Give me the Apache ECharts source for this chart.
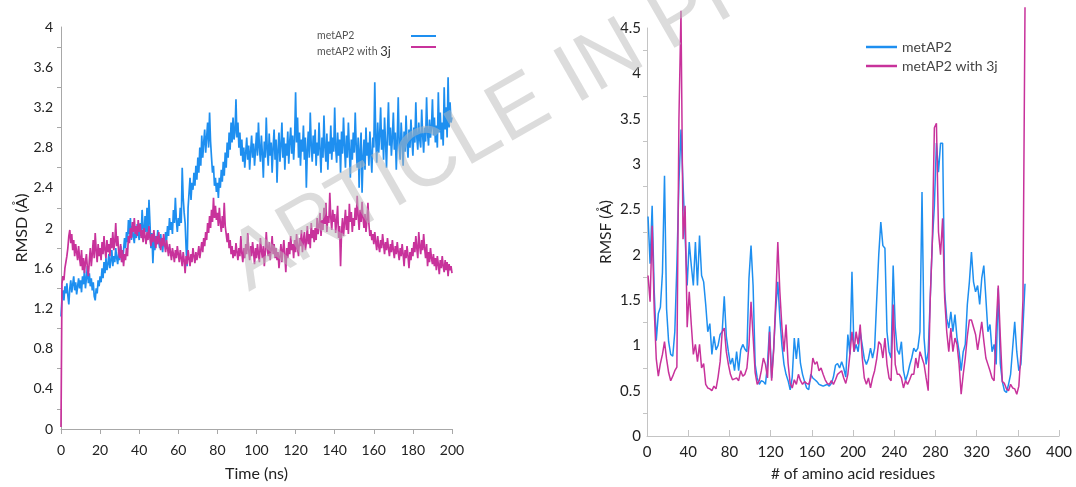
<!DOCTYPE html>
<html>
<head>
<meta charset="utf-8">
<script src="https://cdn.jsdelivr.net/npm/echarts@6.0.0/dist/echarts.min.js"></script>
<style>html,body{margin:0;padding:0;background:#fff}#c{width:1076px;height:487px}</style>
</head>
<body>
<div id="c"></div>
<script>
// ---- data ----
const seriesNames = ['metAP2', 'metAP2 with 3j'];
const rmsdStep = 0.5; // ns between samples
const rmsdApo = [
1.12,1.30,1.38,1.28,1.42,1.35,1.45,1.33,1.24,1.40,1.48,1.36,1.44,1.52,1.38,1.46,1.34,1.42,1.50,1.40,
1.48,1.36,1.52,1.44,1.58,1.40,1.50,1.62,1.45,1.55,1.42,1.50,1.38,1.46,1.32,1.28,1.40,1.35,1.48,1.42,
1.52,1.46,1.60,1.50,1.66,1.55,1.70,1.58,1.64,1.74,1.60,1.68,1.78,1.62,1.72,1.66,1.80,1.70,1.64,1.76,
1.68,1.82,1.72,1.66,1.78,1.90,1.80,1.96,1.86,2.08,1.94,2.10,1.88,2.02,1.92,1.85,2.00,1.90,2.04,1.95,
1.88,2.05,1.92,2.18,2.00,1.90,2.12,1.96,2.20,1.94,2.28,2.05,1.80,1.95,1.65,1.88,1.78,1.92,1.84,1.98,
1.86,1.80,1.94,1.84,1.76,1.90,1.82,1.96,1.88,2.02,1.92,2.10,1.98,2.06,1.94,2.18,2.05,2.30,2.08,1.96,
2.10,2.02,2.20,2.05,2.60,2.30,2.15,2.05,1.80,1.62,2.20,2.35,2.50,2.28,2.45,2.38,2.55,2.42,2.62,2.48,
2.70,2.55,2.80,2.62,2.92,2.70,2.85,2.98,2.75,2.90,3.05,2.80,3.15,2.86,2.70,2.55,2.62,2.42,2.50,2.36,
2.45,2.30,2.50,2.40,2.58,2.46,2.66,2.52,2.75,2.60,2.85,2.70,2.95,2.78,3.05,2.85,3.10,2.88,2.95,3.28,
2.90,3.05,2.80,2.95,2.72,2.88,2.66,2.80,2.60,2.75,2.90,2.68,2.82,2.58,2.76,2.92,2.70,2.84,2.62,2.78,
2.95,2.72,3.05,2.80,2.66,2.92,2.74,2.50,2.86,2.70,3.10,2.78,2.62,2.94,2.72,2.85,2.55,2.80,2.98,2.68,
2.88,2.45,2.78,2.95,2.66,2.82,3.05,2.70,2.90,2.58,2.84,2.72,2.96,2.64,2.86,3.00,2.74,2.92,2.68,2.88,
3.35,2.85,3.10,2.70,2.95,2.62,2.88,2.76,3.02,2.68,2.90,2.40,2.78,2.96,2.70,3.15,2.82,2.66,2.92,2.74,
2.98,2.62,2.85,2.72,3.05,2.78,2.55,2.90,2.70,3.12,2.80,2.66,2.94,2.58,2.86,2.74,3.02,2.68,2.90,2.76,
3.20,2.80,2.65,2.95,2.72,2.88,2.55,2.96,2.74,3.10,2.82,2.60,2.92,2.70,3.05,2.78,2.50,2.88,2.68,2.95,
2.75,3.15,2.82,2.60,2.90,2.40,2.78,2.95,2.35,2.70,2.88,2.58,3.00,2.72,2.85,2.62,2.96,2.74,2.55,2.90,
2.80,3.45,2.90,2.65,3.05,2.75,2.92,3.20,2.78,2.98,2.68,3.10,2.85,2.60,2.95,3.25,2.82,3.00,2.72,2.90,
3.15,2.78,2.95,2.58,2.88,3.30,2.80,2.68,3.05,2.86,2.62,2.96,2.76,3.12,2.84,2.70,2.98,2.80,3.08,2.88,
2.72,3.00,2.85,3.25,2.90,2.78,3.05,2.88,2.80,3.18,2.92,2.75,3.00,2.86,3.30,2.94,2.82,3.08,2.90,3.00,
3.28,2.92,3.10,2.85,3.02,2.80,3.35,2.95,3.15,2.88,3.05,2.82,3.40,2.98,3.20,2.90,3.50,3.00,3.25,3.05,
3.10
];
const rmsdLig = [
0.02,1.45,1.52,1.48,1.60,1.66,1.72,1.80,1.92,1.98,1.85,1.94,1.78,1.88,1.72,1.84,1.76,1.68,1.82,1.70,
1.62,1.78,1.58,1.70,1.55,1.66,1.74,1.60,1.52,1.68,1.80,1.62,1.74,1.88,1.70,1.95,1.78,1.66,1.84,1.72,
1.80,1.68,1.86,1.74,1.92,1.78,1.70,1.88,1.76,1.84,1.72,1.90,1.80,1.96,1.78,1.86,2.05,1.82,1.92,1.76,
1.70,1.84,1.66,1.78,1.62,1.74,1.68,1.80,1.72,1.92,1.85,2.00,1.90,2.06,1.96,2.10,1.94,2.02,1.92,2.08,
1.96,2.04,1.90,1.98,1.86,2.00,1.92,1.84,1.96,1.88,2.02,1.90,1.82,1.94,1.86,1.98,1.88,1.80,1.92,1.84,
1.96,1.86,1.78,1.90,1.82,1.94,1.84,1.76,1.88,1.80,1.72,1.84,1.76,1.68,1.80,1.74,1.66,1.78,1.70,1.82,
1.74,1.66,1.78,1.70,1.62,1.76,1.68,1.55,1.72,1.64,1.78,1.70,1.62,1.74,1.66,1.80,1.72,1.65,1.76,1.68,
1.74,1.82,1.70,1.78,1.86,1.76,1.90,1.82,1.96,1.88,2.05,1.95,2.12,2.00,2.18,2.06,2.30,2.10,2.22,2.08,
2.15,2.02,2.20,2.05,1.96,2.12,2.00,2.25,2.02,1.94,1.86,1.95,1.80,1.88,1.74,1.82,1.70,1.78,1.72,1.85,
1.76,1.68,1.80,1.72,1.92,1.75,1.66,1.80,1.70,1.84,1.74,1.95,1.78,1.68,1.82,1.72,1.86,1.76,1.64,1.80,
1.70,1.84,1.74,1.66,1.90,1.78,1.70,1.82,1.62,1.76,1.96,1.80,1.72,1.86,1.68,1.78,1.92,1.74,1.84,1.70,
1.80,1.68,1.76,1.60,1.72,1.84,1.66,1.78,1.88,1.72,1.56,1.80,1.70,1.86,1.74,1.92,1.78,1.84,1.70,1.88,
1.76,1.94,1.80,1.72,1.90,1.82,1.98,1.76,1.88,1.96,1.78,1.86,2.02,1.84,1.94,1.80,2.05,1.90,1.98,1.86,
2.00,1.88,2.10,1.94,2.02,2.15,1.92,2.08,1.98,2.20,2.04,2.25,1.96,2.12,2.05,2.35,2.10,1.98,2.18,2.06,
2.14,1.95,2.08,2.22,1.90,2.02,1.62,1.96,2.10,1.92,2.05,2.18,1.98,2.12,1.94,2.24,2.06,2.16,1.96,2.10,
2.02,2.20,2.08,2.32,2.12,1.98,2.18,2.06,2.26,2.10,2.00,2.14,1.96,2.08,2.25,2.04,1.92,1.98,1.88,1.94,
1.84,1.96,1.86,1.78,1.92,1.82,1.76,1.88,1.80,1.94,1.84,1.74,1.86,1.78,1.90,1.80,1.72,1.84,1.76,1.88,
1.78,1.70,1.82,1.74,1.86,1.76,1.68,1.80,1.72,1.84,1.74,1.62,1.78,1.70,1.82,1.72,1.60,1.76,1.68,1.80,
1.72,1.86,1.76,1.92,1.80,1.70,1.96,1.82,1.74,1.88,1.78,1.94,1.80,1.70,1.84,1.62,1.76,1.66,1.80,1.70,
1.64,1.74,1.62,1.70,1.58,1.72,1.64,1.54,1.68,1.60,1.72,1.62,1.56,1.68,1.58,1.66,1.52,1.64,1.58,1.62,
1.55
];
const residueStart = 1, residueStep = 2;
const rmsfApo = [
2.42,1.90,2.54,1.60,1.05,1.35,1.42,1.80,2.87,1.40,
1.04,0.90,0.88,1.15,1.88,2.80,3.38,2.78,2.20,1.66,
2.14,1.88,1.66,2.14,1.66,2.21,1.77,1.70,1.45,1.15,
1.24,0.90,1.10,0.95,1.00,1.12,1.15,1.54,1.10,0.93,
0.79,0.86,0.72,0.93,0.72,0.95,1.01,0.96,0.93,1.74,
2.10,1.66,0.79,0.64,0.57,0.61,0.60,0.57,0.79,1.21,
0.64,0.97,1.40,1.70,1.30,1.00,0.79,0.68,0.61,0.51,
0.65,1.08,0.85,1.08,0.80,0.68,0.60,0.53,0.51,0.68,
0.64,0.62,0.60,0.57,0.56,0.55,0.56,0.57,0.55,0.58,
0.65,0.78,0.80,0.75,0.82,0.75,0.65,1.12,0.90,1.81,
0.93,1.01,0.93,1.15,1.00,0.85,0.79,0.85,0.97,0.86,
0.97,1.50,2.00,2.36,2.10,2.07,1.15,0.93,0.86,1.88,
1.20,0.95,0.90,1.04,0.72,0.61,0.68,0.78,0.86,0.97,
0.93,0.97,1.15,2.69,1.08,0.79,0.93,1.52,2.14,2.54,
3.23,2.91,3.23,3.23,1.59,1.30,1.19,1.37,1.15,1.34,
1.08,0.93,0.72,0.93,1.01,1.45,1.70,2.03,1.70,1.59,
1.66,1.45,1.74,1.88,1.52,1.15,1.23,0.93,1.01,0.79,
1.63,0.80,0.60,0.50,0.48,0.57,0.68,0.97,1.26,0.93,
0.72,0.79,1.20,1.68
];
const rmsfLig = [
1.77,1.48,2.32,1.40,0.85,0.66,0.80,0.90,1.04,0.85,
0.70,0.61,0.66,0.72,0.76,3.50,4.69,2.17,2.54,1.20,
1.59,1.23,0.90,1.01,0.82,1.01,0.75,0.80,0.57,0.53,
0.52,0.50,0.55,0.52,0.65,0.82,1.15,1.19,0.93,0.79,
0.68,0.62,0.63,0.64,0.61,0.72,0.66,0.68,0.75,1.00,
1.48,1.10,0.70,0.57,0.61,0.72,0.86,0.79,0.64,1.15,
0.61,0.95,1.50,2.14,1.59,1.20,0.93,1.23,0.80,0.58,
0.53,0.62,0.57,0.68,0.61,0.57,0.60,0.58,0.57,0.64,
0.86,0.79,0.82,0.72,0.75,0.68,0.62,0.58,0.57,0.61,
0.57,0.62,0.68,0.70,0.72,0.64,0.58,0.68,0.90,1.15,
0.93,1.15,1.01,1.23,0.86,0.64,0.57,0.64,0.53,0.64,
0.72,0.85,1.04,1.01,0.86,1.08,0.79,0.64,0.61,1.45,
0.79,0.68,0.68,0.64,0.53,0.61,0.57,0.62,0.68,0.68,
0.86,0.75,0.93,0.86,0.79,0.64,0.50,1.52,2.14,3.40,
3.45,2.25,2.00,2.40,1.52,1.15,0.93,1.19,0.93,1.08,
1.01,0.79,0.46,0.68,0.86,1.10,1.28,1.28,1.20,1.12,
0.95,1.10,1.26,1.05,0.86,0.79,0.72,0.64,0.61,1.20,
1.66,1.10,0.60,0.58,0.52,0.50,0.57,0.53,0.52,0.46,
0.55,0.90,1.50,4.73
];
const watermarkText = 'ARTICLE IN PRESS';

// ---- build ----
const blue = '#1e8ff0', pink = '#c8329b';
const rmsdPairs = arr => arr.map((v, i) => [i * rmsdStep, v]);
const rmsfPairs = arr => arr.map((v, i) => [residueStart + i * residueStep, v]);
const font = 'Lato';
const lineIcon = 'path://M0,0 L100,0 L100,8 L0,8 Z';

const chart = echarts.init(document.getElementById('c'), null, {renderer: 'canvas'});
chart.setOption({
  animation: false,
  backgroundColor: '#fff',
  grid: [
    {left: 61, top: 27, width: 391, height: 405},
    {left: 647, top: 28, width: 412, height: 411}
  ],
  xAxis: [
    {gridIndex: 0, type: 'value', min: 0, max: 200, interval: 20,
     name: 'Time (ns)', nameLocation: 'middle', nameGap: 37,
     nameTextStyle: {fontFamily: font, fontSize: 16, color: '#222'},
     axisLine: {lineStyle: {color: '#a8a8a8', width: 1}},
     axisTick: {show: true, inside: false, length: 5, lineStyle: {color: '#a8a8a8'}},
     axisLabel: {fontFamily: font, fontSize: 14, color: '#222', margin: 14},
     splitLine: {show: false}},
    {gridIndex: 1, type: 'value', min: 0, max: 400, interval: 40,
     name: '# of amino acid residues', nameLocation: 'middle', nameGap: 30,
     nameTextStyle: {fontFamily: font, fontSize: 15.5, color: '#222'},
     axisLine: {lineStyle: {color: '#c4c4c4', width: 1}},
     axisTick: {show: true, inside: true, length: 6, lineStyle: {color: '#c4c4c4'}},
     axisLabel: {fontFamily: font, fontSize: 15, color: '#222', margin: 9},
     splitLine: {show: false}}
  ],
  yAxis: [
    {gridIndex: 0, type: 'value', min: 0, max: 4, interval: 0.4,
     name: 'RMSD (Å)', nameLocation: 'middle', nameGap: 26,
     nameTextStyle: {fontFamily: font, fontSize: 16, color: '#222'},
     axisLine: {show: true, lineStyle: {color: '#a8a8a8', width: 1}},
     axisTick: {show: false},
     minorTick: {show: true, splitNumber: 2, length: 4, lineStyle: {color: '#a8a8a8'}},
     axisLabel: {fontFamily: font, fontSize: 14, color: '#222', margin: 8},
     splitLine: {show: false}, minorSplitLine: {show: false}},
    {gridIndex: 1, type: 'value', min: 0, max: 4.5, interval: 0.5,
     name: 'RMSF (Å)', nameLocation: 'middle', nameGap: 33,
     nameTextStyle: {fontFamily: font, fontSize: 15.5, color: '#222'},
     axisLine: {show: true, lineStyle: {color: '#c4c4c4', width: 1}},
     axisTick: {show: false},
     minorTick: {show: true, splitNumber: 2, length: 4, lineStyle: {color: '#c4c4c4'}},
     axisLabel: {fontFamily: font, fontSize: 15, color: '#222', margin: 6},
     splitLine: {show: false}, minorSplitLine: {show: false}}
  ],
  legend: [
    // left panel: names (text only)
    {data: seriesNames, orient: 'vertical', left: 312, top: 30, align: 'left',
     icon: lineIcon, itemWidth: 0, itemHeight: 12, itemGap: 4, padding: 0,
     itemStyle: {opacity: 0}, lineStyle: {opacity: 0},
     formatter: n => n.replace('3j', '{b|3j}'),
     textStyle: {fontFamily: font, fontSize: 10.5, color: '#555',
       rich: {b: {fontFamily: font, fontSize: 13, color: '#333'}}}},
    // left panel: line keys (to the right of the names)
    {data: seriesNames, orient: 'vertical', left: 411, top: 30, align: 'left',
     icon: lineIcon, itemWidth: 25, itemHeight: 12, itemGap: 4, padding: 0,
     formatter: () => '', textStyle: {fontSize: 10.5}},
    // right panel
    {data: seriesNames, orient: 'vertical', left: 866, top: 40, align: 'left',
     icon: lineIcon, itemWidth: 31, itemHeight: 14, itemGap: 5, padding: 0,
     textStyle: {fontFamily: font, fontSize: 14, color: '#444'}}
  ],
  series: [
    {name: seriesNames[0], type: 'line', xAxisIndex: 0, yAxisIndex: 0, symbol: 'none',
     data: rmsdPairs(rmsdApo), lineStyle: {color: blue, width: 1.7}, itemStyle: {color: blue}},
    {name: seriesNames[1], type: 'line', xAxisIndex: 0, yAxisIndex: 0, symbol: 'none',
     data: rmsdPairs(rmsdLig), lineStyle: {color: pink, width: 1.7}, itemStyle: {color: pink}},
    {name: seriesNames[0], type: 'line', xAxisIndex: 1, yAxisIndex: 1, symbol: 'none', clip: false,
     data: rmsfPairs(rmsfApo), lineStyle: {color: blue, width: 1.5}, itemStyle: {color: blue}},
    {name: seriesNames[1], type: 'line', xAxisIndex: 1, yAxisIndex: 1, symbol: 'none', clip: false,
     data: rmsfPairs(rmsfLig), lineStyle: {color: pink, width: 1.5}, itemStyle: {color: pink}}
  ],
  graphic: [
    {type: 'text', x: 258, y: 308, rotation: 0.52, z: 100, silent: true,
     style: {text: watermarkText, fontFamily: 'Liberation Sans', fontSize: 84,
       fill: 'rgba(185,185,185,0.5)', align: 'left', verticalAlign: 'bottom',
       textAlign: 'left', textVerticalAlign: 'bottom'}}
  ]
});
</script>
</body>
</html>
